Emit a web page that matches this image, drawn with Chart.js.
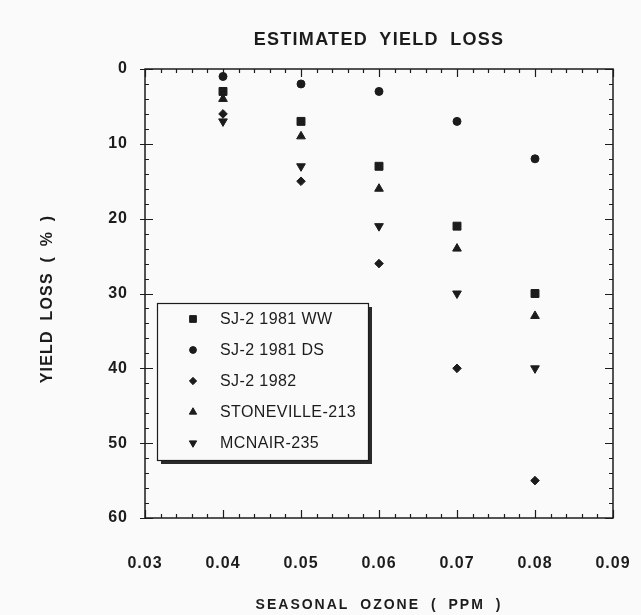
<!DOCTYPE html>
<html>
<head>
<meta charset="utf-8">
<script src="https://cdn.jsdelivr.net/npm/chart.js@4"></script>
<style>
  html, body { margin: 0; padding: 0; background: #fafafa; }
</style>
</head>
<body>
<canvas id="yield-chart" width="641" height="615"></canvas>
<script>
// Data: yield loss (%) vs seasonal ozone (ppm)
const ozone = [0.04, 0.05, 0.06, 0.07, 0.08];
const sj2WW1981 = [3, 7, 13, 21, 30];
const sj2DS1981 = [1, 2, 3, 7, 12];
const sj21982 = [6, 15, 26, 40, 55];
const stoneville213 = [4, 9, 16, 24, 33];
const mcnair235 = [7, 13, 21, 30, 40];

const seriesLabels = ['SJ-2 1981 WW', 'SJ-2 1981 DS', 'SJ-2 1982', 'STONEVILLE-213', 'MCNAIR-235'];
const xTicks = [0.03, 0.04, 0.05, 0.06, 0.07, 0.08, 0.09];
const yTicks = [0, 10, 20, 30, 40, 50, 60];

const ink = '#1c1c1c';
const fontFamily = '"Liberation Sans", Arial, Helvetica, sans-serif';

const markers = [
  { pointStyle: 'rect', radius: 5.6, rotation: 0 },
  { pointStyle: 'circle', radius: 4, rotation: 0 },
  { pointStyle: 'rectRot', radius: 4.3, rotation: 0 },
  { pointStyle: 'triangle', radius: 5, rotation: 0 },
  { pointStyle: 'triangle', radius: 5, rotation: 180 },
];

const seriesValues = [sj2WW1981, sj2DS1981, sj21982, stoneville213, mcnair235];
const datasets = seriesValues.map((vals, i) => ({
  label: seriesLabels[i],
  data: vals.map((v, j) => ({ x: ozone[j], y: v })),
  showLine: false,
  pointStyle: markers[i].pointStyle,
  pointRadius: markers[i].radius,
  pointRotation: markers[i].rotation,
  pointBackgroundColor: ink,
  pointBorderColor: ink,
  pointBorderWidth: 1,
}));

// Box frame with inward tick marks on all four sides
const frameTicks = {
  id: 'frameTicks',
  beforeDraw(chart) {
    chart.ctx.letterSpacing = '1px';
  },
  beforeDatasetsDraw(chart) {
    const { ctx, chartArea: a, scales: { x, y } } = chart;
    ctx.save();
    ctx.strokeStyle = ink;
    ctx.lineWidth = 1.5;
    ctx.strokeRect(a.left, a.top, a.right - a.left, a.bottom - a.top);
    ctx.lineWidth = 1.2;
    ctx.beginPath();
    for (let i = 0; i <= 30; i++) {
      const px = Math.round(x.getPixelForValue(0.03 + i * 0.002)) + 0.5;
      const len = i % 5 === 0 ? 8 : 4;
      ctx.moveTo(px, a.bottom); ctx.lineTo(px, a.bottom - len);
      ctx.moveTo(px, a.top); ctx.lineTo(px, a.top + len);
    }
    for (let i = 0; i <= 30; i++) {
      const py = Math.round(y.getPixelForValue(i * 2)) + 0.5;
      const major = i % 5 === 0;
      ctx.moveTo(a.left - (major ? 5 : 0), py); ctx.lineTo(a.left + (major ? 8 : 4), py);
      ctx.moveTo(a.right, py); ctx.lineTo(a.right - (major ? 8 : 4), py);
    }
    ctx.stroke();
    ctx.restore();
  }
};

// Titles with the wide letter spacing of the original
const titles = {
  id: 'titles',
  afterDraw(chart) {
    const { ctx, chartArea: a } = chart;
    const cx = (a.left + a.right) / 2;
    ctx.save();
    ctx.fillStyle = ink;
    ctx.textAlign = 'center';
    ctx.textBaseline = 'middle';

    ctx.font = `bold 18px ${fontFamily}`;
    ctx.letterSpacing = '1.3px';
    ctx.wordSpacing = '5px';
    ctx.fillText('ESTIMATED YIELD LOSS', cx, 40);

    ctx.font = `bold 14px ${fontFamily}`;
    ctx.letterSpacing = '2px';
    ctx.fillText('SEASONAL OZONE ( PPM )', cx, 605);

    ctx.translate(48, 299);
    ctx.rotate(-Math.PI / 2);
    ctx.font = `bold 16px ${fontFamily}`;
    ctx.letterSpacing = '1.2px';
    ctx.wordSpacing = '4px';
    ctx.fillText('YIELD LOSS ( % )', 0, 0);
    ctx.restore();
  }
};

// Boxed legend with drop shadow inside the plot
const boxLegend = {
  id: 'boxLegend',
  afterDatasetsDraw(chart) {
    const { ctx, chartArea: a } = chart;
    const bx = a.left + 12, by = a.top + 234, bw = 211, bh = 157;
    ctx.save();
    ctx.letterSpacing = '0.4px';
    ctx.fillStyle = '#2a2a2a';
    ctx.fillRect(bx + 4, by + 4, bw, bh);
    ctx.fillStyle = '#fafafa';
    ctx.fillRect(bx, by, bw, bh);
    ctx.strokeStyle = ink;
    ctx.lineWidth = 1.2;
    ctx.strokeRect(bx + 0.5, by + 0.5, bw, bh);

    ctx.font = `16px ${fontFamily}`;
    ctx.textBaseline = 'middle';
    chart.data.datasets.forEach((ds, i) => {
      const rowY = by + 16 + i * 31;
      ctx.fillStyle = ink;
      ctx.strokeStyle = ink;
      ctx.lineWidth = 1;
      Chart.helpers.drawPoint(ctx, {
        pointStyle: ds.pointStyle,
        radius: ds.pointRadius * 0.85,
        rotation: ds.pointRotation,
        borderWidth: 1,
      }, bx + 36, rowY);
      ctx.fillText(ds.label, bx + 63, rowY + 1);
    });
    ctx.restore();
  }
};

const ctx = document.getElementById('yield-chart').getContext('2d');
const yieldChart = new Chart(ctx, {
  type: 'scatter',
  data: { datasets },
  options: {
    responsive: false,
    animation: false,
    layout: { padding: { top: 69, right: 28, left: 0, bottom: 0 } },
    plugins: {
      legend: { display: false },
      tooltip: { enabled: false },
      title: { display: false },
    },
    scales: {
      x: {
        type: 'linear',
        min: 0.03,
        max: 0.09,
        afterBuildTicks: s => { s.ticks = xTicks.map(v => ({ value: v })); },
        afterFit: s => { s.height = 97; s.paddingLeft = 0; s.paddingRight = 0; },
        grid: { display: false, drawTicks: false },
        border: { display: false },
        ticks: {
          color: ink,
          padding: 36,
          maxRotation: 0,
          font: { family: fontFamily, size: 16, weight: 'bold' },
          callback: v => v.toFixed(2),
        },
      },
      y: {
        type: 'linear',
        reverse: true,
        min: 0,
        max: 60,
        afterBuildTicks: s => { s.ticks = yTicks.map(v => ({ value: v })); },
        afterFit: s => { s.width = 145; s.paddingTop = 0; s.paddingBottom = 0; },
        grid: { display: false, drawTicks: false },
        border: { display: false },
        ticks: {
          color: ink,
          padding: 17,
          font: { family: fontFamily, size: 16, weight: 'bold' },
        },
      },
    },
  },
  plugins: [frameTicks, boxLegend, titles],
});
</script>
</body>
</html>
